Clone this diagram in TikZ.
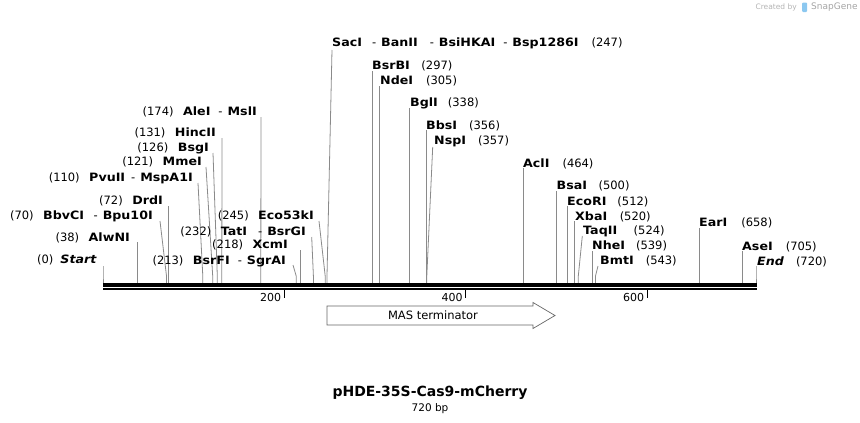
\documentclass[tikz,border=0pt]{standalone}
\usepackage{fontspec}
\setmainfont{DejaVu Sans}[BoldFeatures={FakeStretch=1.1}, BoldItalicFeatures={FakeStretch=1.1}]
\newfontfamily\titlefont{DejaVu Sans}
\definecolor{cutgray}{HTML}{8A8A8A}
\definecolor{wmgray}{HTML}{B4B4B4}
\definecolor{wmblue}{HTML}{8CC8F0}
\newcommand{\en}[1]{\textbf{#1}}
\newcommand{\pn}[1]{(#1)}
\newcommand{\dsh}[1][8pt]{\hspace{#1}-\hspace{5pt}}
\newcommand{\gapn}[1][9.5pt]{\hspace{#1}}
\newcommand{\gapr}[1][13pt]{\hspace{#1}}
\newcommand{\cutat}[4]{%
  \coordinate (t#1) at (#2,#3);
  \coordinate (k#1) at (#4,276);
  \coordinate (s#1) at (#4,283.4);
  \draw[cutline] (t#1) -- (k#1) -- (s#1);}
\tikzset{
  lab/.style={inner sep=0pt, font=\fontsize{11.5}{13}\selectfont},
  labL/.style={lab, anchor=base east},
  labR/.style={lab, anchor=base west},
  cutline/.style={draw=cutgray, line width=0.8pt},
  ticklab/.style={inner sep=0pt, anchor=east, font=\fontsize{11}{13}\selectfont},
  featarrow/.style={draw=black!60, line width=0.7pt, fill=white},
}
\begin{document}
\begin{tikzpicture}[x=1pt,y=-1pt]
\useasboundingbox (0,0) rectangle (860,423);

% watermark
\node[inner sep=0pt, anchor=east, text=wmgray, font=\fontsize{7.5}{8}\selectfont] (wm1) at (797,7) {Created by};
\fill[wmblue, rounded corners=1pt] (802,2.5) rectangle (807,12);
\node[inner sep=0pt, anchor=west, text=wmgray!120, font=\fontsize{9}{10}\selectfont] (wm2) at (811,7) {SnapGene};

% cut lines
\cutat{start}{103}{266}{103}
\cutat{alw}{137.5}{242}{137.5}
\cutat{bbv}{160}{221}{166.5}
\cutat{drd}{168.3}{206}{168.3}
\cutat{pvu}{198}{183}{202.8}
\cutat{mme}{206}{167}{212.7}
\cutat{bsg}{213}{153}{217.3}
\cutat{hinc}{222}{138}{221.8}
\cutat{ale}{261}{117}{260.8}
\cutat{bsrf}{293}{265}{296.2}
\cutat{xcm}{300.7}{250}{300.7}
\cutat{tat}{311.7}{237}{313.4}
\cutat{eco53}{319}{221}{325.2}
\cutat{sac}{332}{50}{327}
\cutat{bsrb}{372.4}{71}{372.4}
\cutat{nde}{379.6}{86}{379.6}
\cutat{bgl}{409.6}{108}{409.6}
\cutat{bbs}{425.9}{130}{425.9}
\cutat{nsp}{432.7}{147}{426.8}
\cutat{acl}{523.8}{168}{523.8}
\cutat{bsa}{556.5}{191}{556.5}
\cutat{ecori}{567.4}{206}{567.4}
\cutat{xba}{574.6}{221}{574.6}
\cutat{taq}{582.3}{236}{578.3}
\cutat{nhe}{591.9}{251}{591.9}
\cutat{bmt}{598}{266}{595.5}
\cutat{ear}{699.8}{228}{699.8}
\cutat{ase}{742.4}{251}{742.4}
\cutat{end}{756}{266}{756}

% labels, left side
\node[labL] (Lstart) at (97,263.3) {\pn{0}\gapn[7pt]\textbf{\textit{Start}}};
\node[labL] (Lalw) at (130,241.3) {\pn{38}\gapn\en{AlwNI}};
\node[labL] (Lbbv) at (153,219.3) {\pn{70}\gapn\en{BbvCI}\dsh[9.5pt]\en{Bpu10I}};
\node[labL] (Ldrd) at (163,204.3) {\pn{72}\gapn\en{DrdI}};
\node[labL] (Lpvu) at (193,181.3) {\pn{110}\gapn\en{PvuII}\dsh[6pt]\en{MspA1I}};
\node[labL] (Lmme) at (202,165.3) {\pn{121}\gapn\en{MmeI}};
\node[labL] (Lbsg) at (209,151.3) {\pn{126}\gapn\en{BsgI}};
\node[labL] (Lhinc) at (216,136.3) {\pn{131}\gapn\en{HincII}};
\node[labL] (Lale) at (257,115.3) {\pn{174}\gapn\en{AleI}\dsh[8pt]\en{MslI}};
\node[labL] (Lbsrf) at (286,264.3) {\pn{213}\gapn\en{BsrFI}\dsh[8pt]\en{SgrAI}};
\node[labL] (Lxcm) at (288,248.3) {\pn{218}\gapn\en{XcmI}};
\node[labL] (Ltat) at (306,235.3) {\pn{232}\gapn\en{TatI}\dsh[11pt]\en{BsrGI}};
\node[labL] (Leco53) at (314,219.3) {\pn{245}\gapn\en{Eco53kI}};

% labels, right side
\node[labR] (Rsac) at (332,46.3) {\en{SacI}\dsh[10pt]\en{BanII}\dsh[12pt]\en{BsiHKAI}\dsh[8pt]\en{Bsp1286I}\gapr[13pt]\pn{247}};
\node[labR] (Rbsrb) at (372,69.3) {\en{BsrBI}\gapr[11.5pt]\pn{297}};
\node[labR] (Rnde) at (380,84.3) {\en{NdeI}\gapr\pn{305}};
\node[labR] (Rbgl) at (410,106.3) {\en{BglI}\gapr[10pt]\pn{338}};
\node[labR] (Rbbs) at (426,129.3) {\en{BbsI}\gapr[12pt]\pn{356}};
\node[labR] (Rnsp) at (434,144.3) {\en{NspI}\gapr[12pt]\pn{357}};
\node[labR] (Racl) at (523,167.3) {\en{AclI}\gapr\pn{464}};
\node[labR] (Rbsa) at (556.5,189.3) {\en{BsaI}\gapr[11.5pt]\pn{500}};
\node[labR] (Recori) at (567,205) {\en{EcoRI}\gapr[11pt]\pn{512}};
\node[labR] (Rxba) at (575,220) {\en{XbaI}\gapr[12.5pt]\pn{520}};
\node[labR] (Rtaq) at (583,234.3) {\en{TaqII}\gapr[16.5pt]\pn{524}};
\node[labR] (Rnhe) at (592,249.3) {\en{NheI}\gapr[11pt]\pn{539}};
\node[labR] (Rbmt) at (600,264.3) {\en{BmtI}\gapr[12pt]\pn{543}};
\node[labR] (Rear) at (699,226.3) {\en{EarI}\gapr[14pt]\pn{658}};
\node[labR] (Rase) at (742,250) {\en{AseI}\gapr[13pt]\pn{705}};
\node[labR] (Rend) at (757,265) {\textbf{\textit{End}}\gapr[12pt]\pn{720}};

% sequence bar
\coordinate (b0) at (103,285);
\coordinate (b1) at (757,285);
\draw[line width=3.3pt] (b0) -- (b1);
\draw[line width=2pt] ([yshift=-4pt]b0) -- ([yshift=-4pt]b1);

% ticks
\foreach \p/\xx in {200/284.4,400/465.8,600/647.2}{
  \draw[line width=1.3pt] (\xx,290) -- (\xx,297.5);
  \node[ticklab] (tk\p) at (\xx-3,297) {\p};
}

% feature arrow
\draw[featarrow] (327,306) -- (533,306) -- (533,302.5) -- (555,315.5) -- (533,328.5) -- (533,325) -- (327,325) -- cycle;
\node[inner sep=0pt, font=\fontsize{11.5}{13}\selectfont] (mas) at (433,315.5) {MAS terminator};

% title
\node[inner sep=0pt, anchor=base, font=\fontsize{14}{16}\titlefont\bfseries] (title) at (430,396) {pHDE-35S-Cas9-mCherry};
\node[inner sep=0pt, anchor=base, font=\fontsize{10.5}{12}\selectfont] (len) at (430,411) {720 bp};
\end{tikzpicture}
\end{document}
